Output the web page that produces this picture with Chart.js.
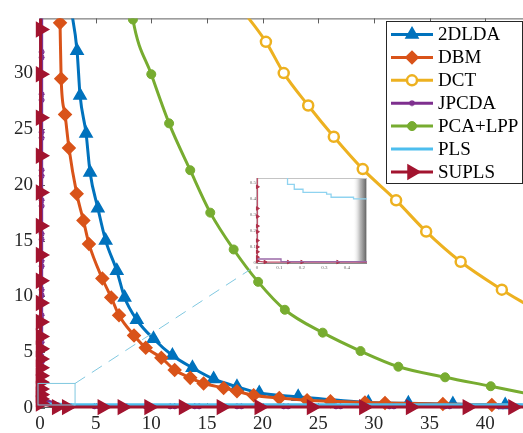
<!DOCTYPE html>
<html>
<head>
<meta charset="utf-8">
<script src="https://cdn.jsdelivr.net/npm/chart.js@4.4.1/dist/chart.umd.min.js"></script>
<style>
  html, body { margin: 0; padding: 0; background: #fff; }
  #wrap { position: relative; width: 523px; height: 433px; overflow: hidden; }
  #main { position: absolute; left: 0; top: 0; }
  #inset { position: absolute; left: 250px; top: 174px; }
</style>
</head>
<body>
<div id="wrap">
  <canvas id="main" width="523" height="433"></canvas>
  <canvas id="inset" width="120" height="98"></canvas>
</div>
<script>
// values
const X_MAX = 43.4, Y_MAX = 34.9;

const lda2dX = [2.75, 3.33, 3.6, 4.14, 4.5, 5.2, 5.9, 6.9, 7.6, 8.7, 10.2, 11.9, 13.7, 15.6, 17.7, 19.7, 23.2, 29.5, 33.1, 37.1, 41.8, 44];
const lda2dY = [36, 32.0, 28.0, 24.6, 21.1, 17.9, 15.0, 12.3, 9.9, 7.9, 6.2, 4.7, 3.6, 2.6, 1.9, 1.35, 1.0, 0.5, 0.42, 0.35, 0.27, 0.22];

const dbmX = [1.75, 1.8, 1.9, 2.25, 2.6, 3.3, 3.9, 4.4, 5.6, 6.4, 7.1, 8.45, 9.5, 10.9, 12.1, 13.5, 14.7, 16.5, 17.7, 19.2, 21.5, 24.0, 26.1, 29.2, 31.0, 36.2, 40.6, 44];
const dbmY = [36, 34.5, 29.5, 26.3, 23.3, 19.2, 16.8, 14.7, 11.6, 9.9, 8.3, 6.5, 5.4, 4.5, 3.4, 2.7, 2.2, 1.8, 1.5, 1.15, 0.9, 0.7, 0.6, 0.5, 0.45, 0.35, 0.27, 0.22];

const dctX = [17.9, 20.3, 21.9, 24.1, 26.4, 29.0, 32.0, 34.7, 37.8, 41.5, 44];
const dctY = [36, 32.8, 30.0, 27.1, 24.3, 21.4, 18.6, 15.8, 13.1, 10.6, 9.1];

const jpcdaX = [0.15, 0.15, 0.15, 0.15, 0.15, 0.15, 0.15, 0.15, 0.15, 0.15, 0.15, 0.15, 0.15, 0.15, 0.15, 0.15, 0.15, 0.15, 0.15, 0.15, 0.15, 0.15, 0.15, 0.15, 0.15, 0.15, 0.15,
  2.4, 2.8, 4.9, 5.3, 7.4, 7.8, 9.5, 9.9, 11.7, 12.1, 13.9, 14.3, 17.7, 18.1, 21.9, 22.3, 26.6, 27.0, 31.4, 31.8, 36.4, 36.8, 41.2, 41.6, 44];
const jpcdaY = [36, 31.9, 31.4, 28.1, 27.6, 24.7, 24.2, 21.3, 20.8, 18.6, 18.1, 15.6, 15.1, 13.2, 12.7, 10.6, 10.1, 8.3, 7.8, 6.4, 5.9, 4.6, 4.1, 2.9, 2.4, 1.3, 0.8,
  0.15, 0.15, 0.15, 0.15, 0.15, 0.15, 0.15, 0.15, 0.15, 0.15, 0.15, 0.15, 0.15, 0.15, 0.15, 0.15, 0.15, 0.15, 0.15, 0.15, 0.15, 0.15, 0.15, 0.15, 0.15];

const pcaX = [8.2, 8.35, 10.0, 11.6, 13.5, 15.3, 17.4, 19.6, 22.0, 25.4, 28.8, 32.2, 36.4, 40.5, 44];
const pcaY = [36, 34.8, 29.9, 25.5, 21.3, 17.5, 14.2, 11.3, 8.8, 6.75, 5.1, 3.7, 2.75, 1.95, 1.25];

const plsX = [0.05, 0.05, 0.3, 1.0, 3.0, 44];
const plsY = [36, 1.5, 0.45, 0.35, 0.3, 0.28];

const suplsX = [0.05, 0.05, 0.05, 0.05, 0.05, 0.05, 0.05, 0.05, 0.05, 0.05, 0.05, 0.05, 0.05, 0.05, 0.05, 0.05, 0.05, 0.05, 0.05, 0.05, 0.05,
  1.5, 2.4, 5.6, 7.4, 9.8, 12.9, 16.3, 19.7, 24.4, 29.1, 33.3, 38.4, 42.5, 44];
const suplsY = [36, 33.9, 29.9, 26.0, 22.6, 19.3, 16.3, 13.7, 11.4, 9.4, 7.7, 6.4, 5.3, 4.4, 3.6, 2.9, 2.3, 1.7, 1.2, 0.8, 0.4,
  0.08, 0.08, 0.08, 0.08, 0.08, 0.08, 0.08, 0.08, 0.08, 0.08, 0.08, 0.08, 0.08, 0.08];

// zoomed region marked on the main plot
const zoomRegionX = [-0.18, 3.15];
const zoomRegionY = [0.27, 2.2];

// inset (magnified view)
const insetPlsX = [0.136, 0.136, 0.166, 0.166, 0.205, 0.205, 0.31, 0.31, 0.33, 0.33, 0.43, 0.43, 0.5];
const insetPlsY = [0.56, 0.49, 0.49, 0.46, 0.46, 0.44, 0.44, 0.43, 0.43, 0.41, 0.41, 0.40, 0.40];
const insetSuplsX = [0.002, 0.002, 0.002, 0.002, 0.002, 0.002, 0.002, 0.002, 0.002, 0.002, 0.002, 0.036, 0.14, 0.2, 0.36, 0.5];
const insetSuplsY = [0.56, 0.475, 0.34, 0.29, 0.23, 0.195, 0.14, 0.10, 0.07, 0.036, 0.012, 0.006, 0.006, 0.006, 0.006, 0.006];
const insetJpcdaX = [0.002, 0.107, 0.107, 0.5];
const insetJpcdaY = [0.025, 0.025, 0.009, 0.009];

const INSET_LEFT = 250, INSET_TOP = 174, INSET_H = 98;

Chart.defaults.font.family = "'Liberation Serif', 'Times New Roman', serif";
Chart.defaults.color = '#262626';

function pts(xs, ys) { return xs.map((x, i) => ({ x: x, y: ys[i] })); }
function markerSize(r) {
  return ctx => {
    const p = ctx.raw;
    return (p && (p.y > Y_MAX || p.x > X_MAX)) ? 0 : r;
  };
}

const styles = [
  { name: '2DLDA', x: lda2dX, y: lda2dY, color: '#0072BD', point: 'triangle', rot: 0, r: 6, bw: 2.5, bg: '#0072BD', smooth: true },
  { name: 'DBM', x: dbmX, y: dbmY, color: '#D95319', point: 'rectRot', rot: 0, r: 5.5, bw: 2.5, bg: '#D95319', smooth: true },
  { name: 'DCT', x: dctX, y: dctY, color: '#EDB120', point: 'circle', rot: 0, r: 5, bw: 2.5, bg: '#fff', smooth: true },
  { name: 'JPCDA', x: jpcdaX, y: jpcdaY, color: '#7E2F8E', point: 'star', rot: 0, r: 3, bw: 1.5, bg: '#7E2F8E', smooth: false },
  { name: 'PCA+LPP', x: pcaX, y: pcaY, color: '#77AC30', point: 'circle', rot: 0, r: 4.5, bw: 1, bg: '#77AC30', smooth: true },
  { name: 'PLS', x: plsX, y: plsY, color: '#4DBEEE', point: false, rot: 0, r: 0, bw: 0, bg: '#4DBEEE', smooth: false },
  { name: 'SUPLS', x: suplsX, y: suplsY, color: '#A2142F', point: 'triangle', rot: 90, r: 6.5, bw: 3, bg: '#A2142F', smooth: false }
];

const datasets = styles.map((s, i) => ({
  label: s.name,
  data: pts(s.x, s.y),
  showLine: true,
  borderColor: s.color,
  borderWidth: 3,
  backgroundColor: s.color,
  pointStyle: s.point || 'circle',
  pointRotation: s.rot,
  pointRadius: markerSize(s.r),
  pointBorderWidth: s.bw,
  pointBorderColor: s.color,
  pointBackgroundColor: s.bg,
  cubicInterpolationMode: s.smooth ? 'monotone' : 'default',
  tension: 0,
  order: styles.length - i,
  clip: { left: 12, top: 0, right: 0, bottom: 12 }
}));

const axesBox = {
  id: 'axesBox',
  beforeDatasetsDraw(chart) {
    const { ctx, chartArea: a, scales: { x, y } } = chart;
    ctx.save();
    ctx.strokeStyle = '#5e5e5e';
    ctx.lineWidth = 1;
    ctx.beginPath();
    ctx.moveTo(a.left + 0.5, a.bottom);
    ctx.lineTo(a.left + 0.5, a.top + 0.5);
    ctx.lineTo(a.right, a.top + 0.5);
    ctx.moveTo(a.left, a.bottom - 0.5);
    ctx.lineTo(a.right, a.bottom - 0.5);
    x.ticks.forEach(t => {
      const px = Math.round(x.getPixelForValue(t.value)) + 0.5;
      ctx.moveTo(px, a.top); ctx.lineTo(px, a.top + 5);
      ctx.moveTo(px, a.bottom); ctx.lineTo(px, a.bottom - 5);
    });
    y.ticks.forEach(t => {
      const py = Math.round(y.getPixelForValue(t.value)) + 0.5;
      ctx.moveTo(a.left, py); ctx.lineTo(a.left + 5, py);
    });
    ctx.stroke();
    ctx.restore();
  }
};

const zoomBox = {
  id: 'zoomBox',
  afterDatasetsDraw(chart) {
    const { ctx, scales: { x, y } } = chart;
    const x0 = x.getPixelForValue(zoomRegionX[0]), x1 = x.getPixelForValue(zoomRegionX[1]);
    const y0 = y.getPixelForValue(zoomRegionY[0]), y1 = y.getPixelForValue(zoomRegionY[1]);
    ctx.save();
    ctx.strokeStyle = '#80c8e0';
    ctx.lineWidth = 1;
    ctx.strokeRect(x0, y1, x1 - x0, y0 - y1);
    ctx.setLineDash([12, 8]);
    ctx.beginPath();
    ctx.moveTo(x1, y1);
    ctx.lineTo(INSET_LEFT + 1, INSET_TOP + INSET_H - 3);
    ctx.stroke();
    ctx.restore();
  }
};

const boxLegend = {
  id: 'boxLegend',
  afterDraw(chart) {
    const ctx = chart.ctx;
    const left = 386.5, top = 21.5, w = 136, h = 162;
    ctx.save();
    ctx.fillStyle = '#fff';
    ctx.fillRect(left, top, w, h);
    ctx.strokeStyle = '#262626';
    ctx.lineWidth = 1;
    ctx.strokeRect(left, top, w, h);
    ctx.font = "19px 'Liberation Serif', serif";
    ctx.textBaseline = 'middle';
    styles.forEach((s, i) => {
      const cy = 34.5 + i * 22.9;
      ctx.strokeStyle = s.color;
      ctx.lineWidth = 3;
      ctx.beginPath();
      ctx.moveTo(391, cy); ctx.lineTo(433, cy);
      ctx.stroke();
      if (s.point) {
        ctx.fillStyle = s.bg;
        ctx.strokeStyle = s.color;
        ctx.lineWidth = s.bw;
        Chart.helpers.drawPoint(ctx, { pointStyle: s.point, rotation: s.rot, radius: s.r, borderWidth: s.bw }, 412, cy);
      }
      ctx.fillStyle = '#000';
      ctx.fillText(s.name, 438, cy + 1);
    });
    ctx.restore();
  }
};

new Chart(document.getElementById('main'), {
  type: 'scatter',
  data: { datasets: datasets },
  options: {
    responsive: false,
    animation: false,
    events: [],
    layout: { padding: { top: 15, right: 0, left: 0, bottom: 0 } },
    plugins: { legend: { display: false }, tooltip: { enabled: false } },
    scales: {
      x: {
        type: 'linear', min: 0, max: X_MAX,
        grid: { display: false, drawTicks: false },
        border: { display: false },
        ticks: { stepSize: 5, includeBounds: false, padding: 5, maxRotation: 0, font: { size: 19 }, color: '#262626' },
        afterFit: s => { s.height = 25; }
      },
      y: {
        type: 'linear', min: 0, max: Y_MAX,
        grid: { display: false, drawTicks: false },
        border: { display: false },
        ticks: { stepSize: 5, includeBounds: false, padding: 7, font: { size: 19 }, color: '#262626' },
        afterFit: s => { s.width = 40; }
      }
    }
  },
  plugins: [axesBox, zoomBox, boxLegend]
});

// inset chart
const insetFrame = {
  id: 'insetFrame',
  beforeDatasetsDraw(chart) {
    const { ctx, chartArea: a } = chart;
    ctx.save();
    const g = ctx.createLinearGradient(a.right - 14, 0, a.right, 0);
    g.addColorStop(0, 'rgba(255,255,255,0)');
    g.addColorStop(0.5, 'rgba(170,170,170,0.8)');
    g.addColorStop(1, 'rgba(80,80,80,0.95)');
    ctx.fillStyle = g;
    ctx.fillRect(a.right - 14, a.top, 14, a.bottom - a.top);
    ctx.strokeStyle = '#c4c4c4';
    ctx.lineWidth = 1;
    ctx.strokeRect(a.left - 0.5, a.top + 0.5, a.right - a.left, a.bottom - a.top);
    ctx.strokeStyle = '#8a8a8a';
    ctx.beginPath();
    ctx.moveTo(a.left + 0.5, a.top); ctx.lineTo(a.left + 0.5, a.bottom + 0.5); ctx.lineTo(a.right, a.bottom + 0.5);
    ctx.stroke();
    ctx.restore();
  }
};

new Chart(document.getElementById('inset'), {
  type: 'scatter',
  data: {
    datasets: [
      { label: 'PLS', data: pts(insetPlsX, insetPlsY), showLine: true, borderColor: '#8fd3f0', borderWidth: 1.3, pointRadius: 0, clip: 0 },
      { label: 'JPCDA', data: pts(insetJpcdaX, insetJpcdaY), showLine: true, borderColor: '#9b6aa8', borderWidth: 1.3, pointRadius: 0, clip: 0 },
      { label: 'SUPLS', data: pts(insetSuplsX, insetSuplsY), showLine: true, borderColor: '#c0506a', borderWidth: 1.3,
        pointStyle: 'triangle', pointRotation: 90, pointRadius: ctx => (ctx.raw && ctx.raw.y > 0.53 || ctx.raw.x > 0.49) ? 0 : 2,
        pointBorderColor: '#b0304a', pointBackgroundColor: '#b0304a', pointBorderWidth: 1, clip: { left: 3, top: 0, right: 0, bottom: 3 } }
    ]
  },
  options: {
    responsive: false,
    animation: false,
    events: [],
    layout: { padding: { top: 2, right: 3, left: 0, bottom: 0 } },
    plugins: { legend: { display: false }, tooltip: { enabled: false } },
    scales: {
      x: {
        type: 'linear', min: 0, max: 0.49,
        grid: { display: false, drawTicks: false },
        border: { display: false },
        ticks: { stepSize: 0.1, includeBounds: false, padding: 2, maxRotation: 0, font: { size: 5 }, color: '#666' },
        afterFit: s => { s.height = 9; }
      },
      y: {
        type: 'linear', min: 0, max: 0.53,
        grid: { display: false, drawTicks: false },
        border: { display: false },
        ticks: { stepSize: 0.1, includeBounds: false, padding: 1, font: { size: 5 }, color: '#666' },
        afterFit: s => { s.width = 7; }
      }
    }
  },
  plugins: [insetFrame]
});
</script>
</body>
</html>
